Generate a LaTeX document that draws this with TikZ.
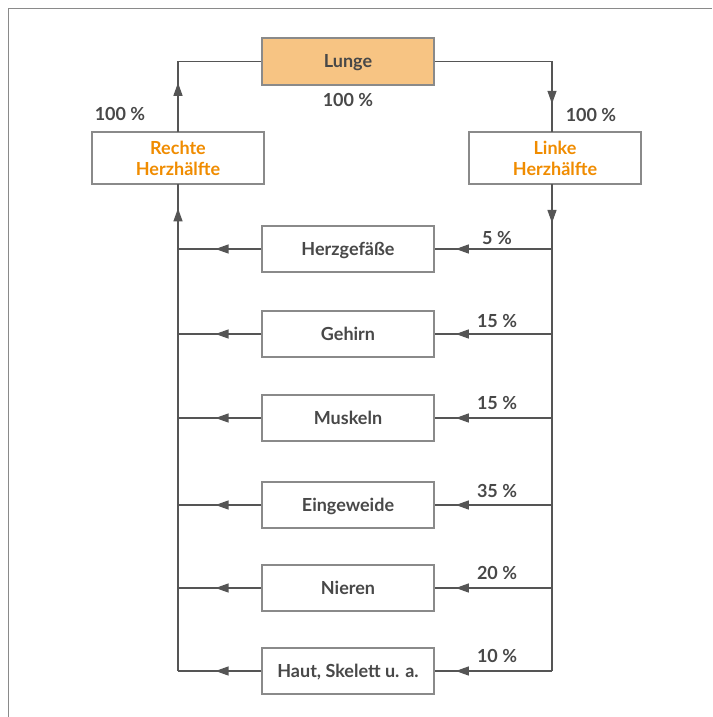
\documentclass[tikz,border=0pt]{standalone}
\usepackage{fontspec}
\setmainfont{Lato}
\usetikzlibrary{arrows.meta,decorations.markings}

\definecolor{txtgray}{HTML}{484848}
\definecolor{boxgray}{HTML}{8A8A8A}
\definecolor{linegray}{HTML}{555555}
\definecolor{herzorange}{HTML}{F08C00}
\definecolor{lungefill}{HTML}{F7C483}

\tikzset{
  box/.style={draw=boxgray, line width=1.3pt, fill=white, minimum width=172pt,
    inner sep=0pt, font=\fontsize{18}{21}\selectfont\bfseries},
  organ/.style={box, minimum height=46pt, text=txtgray, text height=12.5pt, text depth=0pt},
  herz/.style={box, minimum height=52pt, text=herzorange, align=center},
  pct/.style={text=txtgray, font=\fontsize{18}{21}\selectfont\bfseries, inner sep=0pt},
  flow/.style={draw=linegray, line width=1.2pt},
  arrowat/.style={postaction={decorate}, decoration={markings,
    mark=at position #1 with {\arrow{Triangle[length=13pt,width=9pt]}}}}
}

\begin{document}
\begin{tikzpicture}[x=1pt,y=-1pt]
  \useasboundingbox (0,0) rectangle (712,717);
  % frame
  \draw[boxgray, line width=1.6pt] (8.5,717) -- (8.5,8.5) -- (712,8.5);

  % heart and lung
  \node[organ, fill=lungefill, minimum height=47pt] (lunge) at (348,61.5) {Lunge};
  \node[herz] (rechte) at (178,158) {Rechte\\Herzhälfte};
  \node[herz] (linke) at (555,158) {Linke\\Herzhälfte};

  % organs
  \node[organ] (herzgef) at (348,249) {Herzgefäße};
  \node[organ] (gehirn) at (348,334) {Gehirn};
  \node[organ] (muskeln) at (348,418) {Muskeln};
  \node[organ] (eingew) at (348,505) {Eingeweide};
  \node[organ] (nieren) at (348,588) {Nieren};
  \node[organ] (haut) at (348,671) {Haut, Skelett u. a.};

  % corners of the loop
  \coordinate (lo) at (178,61.5);
  \coordinate (ro) at (552,61.5);
  \coordinate (lu) at (178,671);
  \coordinate (ru) at (552,671);
  \coordinate (lt) at (178,132);
  \coordinate (rt) at (552,132);
  \coordinate (lb) at (178,184);
  \coordinate (rb) at (552,184);

  % lung loop
  \draw[flow, arrowat=0.32] (lt) -- (lo) -- (lunge.west);
  \draw[flow, arrowat=0.85] (lunge.east) -- (ro) -- (rt);

  % main lines
  \draw[flow, arrowat=0.95] (lu) -- (lb);
  \draw[flow, arrowat=0.08] (rb) -- (ru);

  % branches
  \foreach \o/\y in {herzgef/249, gehirn/334, muskeln/418, eingew/505, nieren/588, haut/671}{
    \draw[flow, arrowat=0.82] (552,\y) -- (\o.east);
    \draw[flow, arrowat=0.55] (\o.west) -- (178,\y);
  }

  % shares
  \node[pct] (p0) at (348,100) {100 \%};
  \node[pct] (pl) at (120,114) {100 \%};
  \node[pct] (pr) at (591,115) {100 \%};
  \node[pct] (p1) at (497,238) {5 \%};
  \node[pct] (p2) at (497,321) {15 \%};
  \node[pct] (p3) at (497,403) {15 \%};
  \node[pct] (p4) at (497,491) {35 \%};
  \node[pct] (p5) at (497,573) {20 \%};
  \node[pct] (p6) at (497,656) {10 \%};
\end{tikzpicture}
\end{document}
